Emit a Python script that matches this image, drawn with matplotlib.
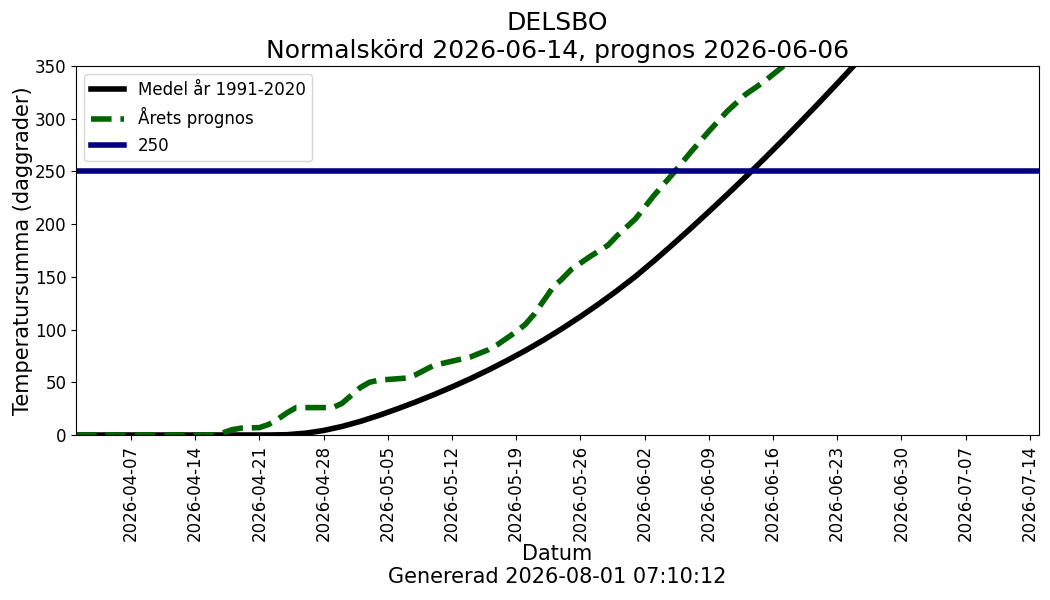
import matplotlib
matplotlib.use("Agg")
import matplotlib.pyplot as plt
import matplotlib.dates as mdates
import pandas as pd

# Mean temperature sum 1991-2020 (daggrader)
mean_dates = ["2026-04-01", "2026-04-22", "2026-04-24", "2026-04-26", "2026-04-28",
              "2026-04-30", "2026-05-02", "2026-05-04", "2026-05-06", "2026-05-08",
              "2026-05-10", "2026-05-12", "2026-05-14", "2026-05-16", "2026-05-18",
              "2026-05-20", "2026-05-22", "2026-05-24", "2026-05-26", "2026-05-28",
              "2026-05-30", "2026-06-01", "2026-06-03", "2026-06-05", "2026-06-07",
              "2026-06-09", "2026-06-11", "2026-06-13", "2026-06-15", "2026-06-17",
              "2026-06-19", "2026-06-21", "2026-06-23", "2026-06-25", "2026-06-27",
              "2026-06-29", "2026-07-01"]
mean_values = [0, 0, 0.3, 1.7, 4.3,
               8.1, 12.9, 18.5, 24.7, 31.2,
               38.2, 45.6, 53.4, 61.8, 70.7,
               80.1, 90.2, 100.9, 112.3, 124.3,
               137.0, 150.4, 165.0, 180.2, 195.8,
               211.8, 228.1, 244.7, 261.7, 279.1,
               296.9, 315.0, 333.4, 352.1, 371.1,
               390.3, 409.7]

# This year's forecast
fc_dates = ["2026-04-01", "2026-04-16", "2026-04-17", "2026-04-18", "2026-04-19",
            "2026-04-21", "2026-04-22", "2026-04-23", "2026-04-24", "2026-04-25",
            "2026-04-29", "2026-04-30", "2026-05-02", "2026-05-03", "2026-05-04",
            "2026-05-07", "2026-05-08", "2026-05-10", "2026-05-12", "2026-05-14",
            "2026-05-16", "2026-05-17", "2026-05-19", "2026-05-20", "2026-05-21",
            "2026-05-23", "2026-05-24", "2026-05-25", "2026-05-26", "2026-05-27",
            "2026-05-29", "2026-05-30", "2026-06-01", "2026-06-03", "2026-06-05",
            "2026-06-07", "2026-06-09", "2026-06-11", "2026-06-13", "2026-06-15",
            "2026-06-17", "2026-06-19", "2026-06-21"]
fc_values = [0, 0, 2, 5, 6.5,
             7, 10, 15, 21, 26,
             26, 30, 45, 50, 52,
             54, 57, 66, 70, 74,
             81, 86, 98, 105, 115,
             140, 148, 157, 163, 169,
             180, 189, 205, 227, 247,
             268, 288, 307, 323, 335,
             349, 365, 380]

threshold = 250
title_lines = ["DELSBO", "Normalskörd 2026-06-14, prognos 2026-06-06"]
xlabel_lines = ["Datum", "Genererad 2026-08-01 07:10:12"]

fig = plt.figure(figsize=(10.5, 6), dpi=100)
ax = fig.add_axes([0.0724, 0.275, 0.9171, 0.615])

ax.plot(pd.to_datetime(mean_dates), mean_values, color="black", lw=4,
        label="Medel år 1991-2020")
ax.plot(pd.to_datetime(fc_dates), fc_values, color="darkgreen", lw=4, ls="--",
        label="Årets prognos")
ax.axhline(threshold, color="navy", lw=4, label=str(threshold))

ax.set_xlim(pd.Timestamp("2026-04-01"), pd.Timestamp("2026-07-15"))
ax.set_ylim(0, 350)
ax.xaxis.set_major_locator(mdates.WeekdayLocator(byweekday=mdates.TU))
ax.xaxis.set_major_formatter(mdates.DateFormatter("%Y-%m-%d"))
ax.tick_params(axis="x", labelrotation=90, labelsize=12)
ax.tick_params(axis="y", labelsize=12)

ax.set_title("\n".join(title_lines), fontsize=18)
ax.set_ylabel("Temperatursumma (daggrader)", fontsize=15, labelpad=1)
ax.set_xlabel("\n".join(xlabel_lines), fontsize=15, labelpad=2)
ax.legend(loc="upper left", fontsize=12)

fig.savefig("out.png", dpi=100)
